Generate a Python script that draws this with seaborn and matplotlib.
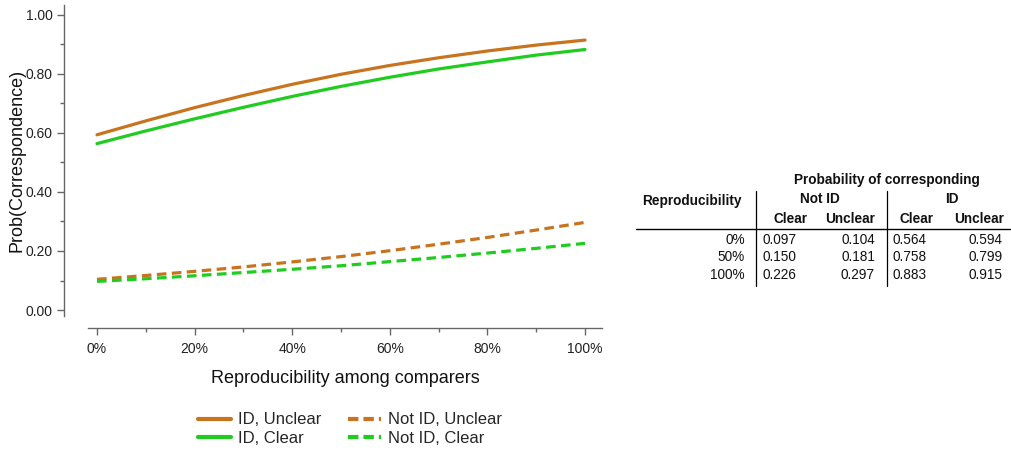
import numpy as np
import pandas as pd
import matplotlib
matplotlib.use("Agg")
import matplotlib.pyplot as plt
from matplotlib.ticker import MultipleLocator, FuncFormatter
from matplotlib.lines import Line2D
import seaborn as sns

# ---- data ----
reproducibility = [0.0, 0.1, 0.2, 0.3, 0.4, 0.5, 0.6, 0.7, 0.8, 0.9, 1.0]
id_unclear     = [0.594, 0.641, 0.686, 0.727, 0.765, 0.799, 0.829, 0.855, 0.878, 0.898, 0.915]
id_clear       = [0.564, 0.607, 0.648, 0.687, 0.724, 0.758, 0.789, 0.817, 0.841, 0.864, 0.883]
notid_unclear  = [0.104, 0.117, 0.131, 0.146, 0.163, 0.181, 0.201, 0.223, 0.246, 0.271, 0.297]
notid_clear    = [0.097, 0.106, 0.116, 0.127, 0.138, 0.150, 0.164, 0.178, 0.193, 0.209, 0.226]

series_names = ["ID, Unclear", "ID, Clear", "Not ID, Unclear", "Not ID, Clear"]

table_rows = ["0%", "50%", "100%"]
table_notid_clear = ["0.097", "0.150", "0.226"]
table_notid_unclear = ["0.104", "0.181", "0.297"]
table_id_clear = ["0.564", "0.758", "0.883"]
table_id_unclear = ["0.594", "0.799", "0.915"]

ORANGE = "#C8731E"
GREEN = "#1FCC1F"
palette = {"ID, Unclear": ORANGE, "ID, Clear": GREEN,
           "Not ID, Unclear": ORANGE, "Not ID, Clear": GREEN}
dashes = {"ID, Unclear": "", "ID, Clear": "",
          "Not ID, Unclear": (3, 1.7), "Not ID, Clear": (3, 1.7)}

df = pd.DataFrame({
    "x": reproducibility * 4,
    "prob": id_unclear + id_clear + notid_unclear + notid_clear,
    "series": sum([[n] * len(reproducibility) for n in series_names], []),
})

sns.set_style("white")
plt.rcParams["font.family"] = ["Liberation Sans", "DejaVu Sans"]

W, H = 1012, 451
fig = plt.figure(figsize=(W / 100, H / 100), dpi=100)

# axes box in pixels
left, right, top, bottom = 88, 602, 5, 316
ax = fig.add_axes([left / W, 1 - bottom / H, (right - left) / W, (bottom - top) / H])

sns.lineplot(data=df, x="x", y="prob", hue="series", style="series",
             palette=palette, dashes=dashes, hue_order=series_names,
             style_order=series_names, linewidth=2.3, legend=False, ax=ax,
             sort=True)

# limits mapping: x 0 -> px 97, 1 -> px 585 ; y 0 -> px 310, 1 -> px 15
xpx = 488.0
ax.set_xlim((left - 97) / xpx, (right - 97) / xpx)
ypx = 295.0
ax.set_ylim(-(bottom - 310) / ypx, 1 + (15 - top) / ypx)

for s in ["top", "right"]:
    ax.spines[s].set_visible(False)
spine_col = "#666666"
ax.spines["left"].set_position(("outward", 24 * 0.72))
ax.spines["bottom"].set_position(("outward", 12 * 0.72))
for s in ["left", "bottom"]:
    ax.spines[s].set_color(spine_col)
    ax.spines[s].set_linewidth(1.0)

ax.yaxis.set_major_locator(MultipleLocator(0.2))
ax.yaxis.set_minor_locator(MultipleLocator(0.1))
ax.xaxis.set_major_locator(MultipleLocator(0.2))
ax.xaxis.set_minor_locator(MultipleLocator(0.1))
ax.yaxis.set_major_formatter(FuncFormatter(lambda v, p: f"{v:.2f}"))
ax.xaxis.set_major_formatter(FuncFormatter(lambda v, p: f"{v*100:.0f}%"))
ax.tick_params(which="major", direction="out", length=5, width=1, color=spine_col,
               labelsize=10, labelcolor="#222222", left=True, bottom=True)
ax.tick_params(which="minor", direction="out", length=3, width=1, color=spine_col,
               left=True, bottom=True)
ax.tick_params(axis="x", which="major", pad=5)
ax.tick_params(axis="y", which="major", pad=3)

ax.set_xlabel("Reproducibility among comparers", fontsize=13, color="#111111", labelpad=10)
ax.set_ylabel("Prob(Correspondence)", fontsize=13, color="#111111")
ax.yaxis.set_label_coords((25 - left) / (right - left), 0.5)

# legend
handles = [Line2D([], [], color=palette[n], lw=3,
                  linestyle=("-" if dashes[n] == "" else (0, (2.5, 1.2))))
           for n in series_names]
fig.legend(handles, series_names, loc="center", bbox_to_anchor=(350 / W, 1 - 429 / H),
           ncol=2, frameon=False, fontsize=12, handlelength=2.0, handletextpad=0.4,
           columnspacing=1.6, labelspacing=0.2)

# ---- table ----
def px(x, y):
    return x / W, 1 - y / H

fs = 9.8
tc = "#111111"
fig.text(*px(887, 180), "Probability of corresponding", ha="center", va="center",
         fontsize=fs, fontweight="bold", color=tc)
fig.text(*px(742, 201), "Reproducibility", ha="right", va="center",
         fontsize=fs, fontweight="bold", color=tc)
fig.text(*px(820, 199), "Not ID", ha="center", va="center", fontsize=fs,
         fontweight="bold", color=tc)
fig.text(*px(952, 199), "ID", ha="center", va="center", fontsize=fs,
         fontweight="bold", color=tc)
for xc, lab in [(791, "Clear"), (850, "Unclear"), (917, "Clear"), (979, "Unclear")]:
    fig.text(*px(xc, 219), lab, ha="center", va="center", fontsize=fs,
             fontweight="bold", color=tc)
row_y = [240, 257, 275]
for i, y in enumerate(row_y):
    fig.text(*px(745, y), table_rows[i], ha="right", va="center", fontsize=fs, color=tc)
    fig.text(*px(763, y), table_notid_clear[i], ha="left", va="center", fontsize=fs, color=tc)
    fig.text(*px(875, y), table_notid_unclear[i], ha="right", va="center", fontsize=fs, color=tc)
    fig.text(*px(893, y), table_id_clear[i], ha="left", va="center", fontsize=fs, color=tc)
    fig.text(*px(1003, y), table_id_unclear[i], ha="right", va="center", fontsize=fs, color=tc)

fig.add_artist(Line2D([636 / W, 1010 / W], [1 - 229 / H, 1 - 229 / H],
                      color="black", lw=1.0))
for xv, y0 in [(756, 191), (887, 191)]:
    fig.add_artist(Line2D([xv / W, xv / W], [1 - y0 / H, 1 - 286 / H],
                          color="black", lw=0.9))

fig.savefig("out.png", dpi=100)
